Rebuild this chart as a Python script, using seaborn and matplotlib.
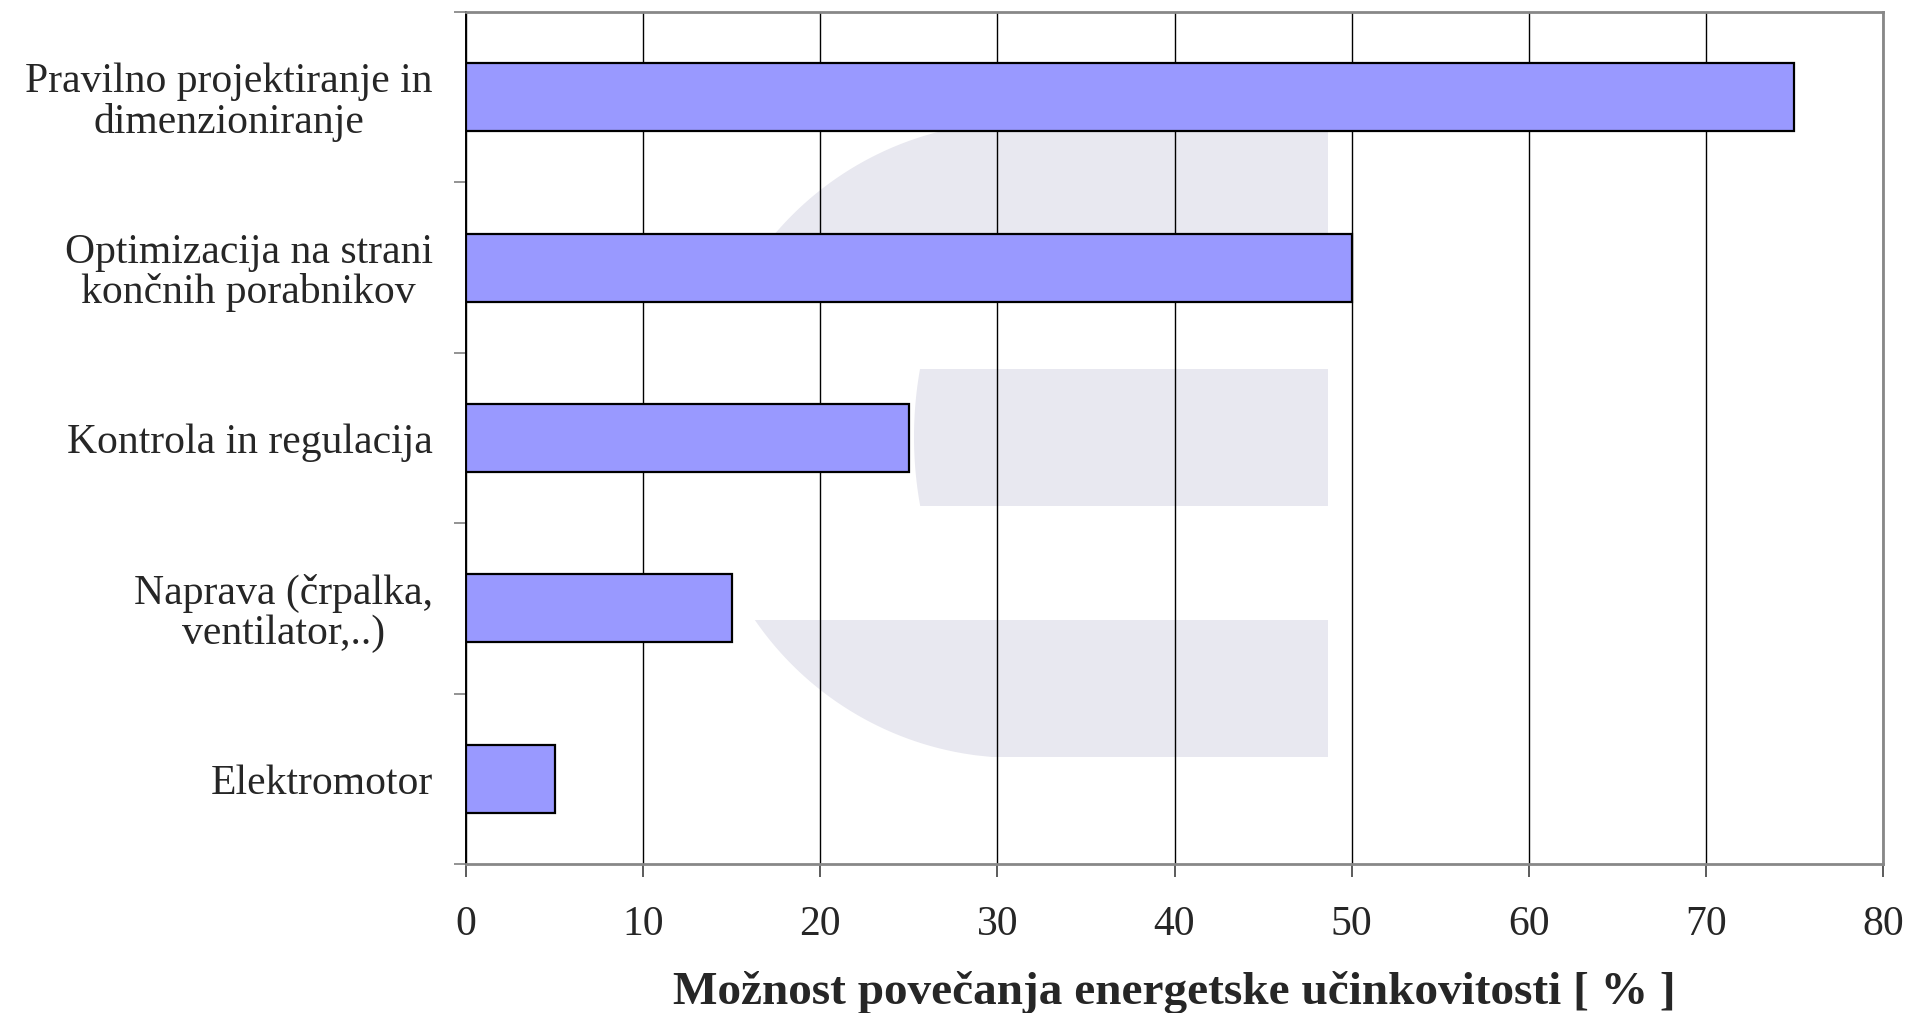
import numpy as np
import matplotlib
matplotlib.use("Agg")
import matplotlib.pyplot as plt
from matplotlib.patches import Polygon
from matplotlib.ticker import FixedLocator
import seaborn as sns
import pandas as pd

# Data
categories = [
    "Pravilno projektiranje in\ndimenzioniranje",
    "Optimizacija na strani\nkončnih porabnikov",
    "Kontrola in regulacija",
    "Naprava (črpalka,\nventilator,..)",
    "Elektromotor",
]
values = [75, 50, 25, 15, 5]
x_ticks = [0, 10, 20, 30, 40, 50, 60, 70, 80]
x_label = "Možnost povečanja energetske učinkovitosti [ % ]"

df = pd.DataFrame({"ukrep": categories, "delez": values})

sns.set_theme(style="white")
plt.rcParams["font.family"] = ["Liberation Serif", "DejaVu Serif"]

W, H = 1909, 1013
fig = plt.figure(figsize=(W / 100, H / 100), dpi=100)
fig.patch.set_facecolor("white")

# axes placement in pixels (left, top, right, bottom)
L, T, R, B = 466, 12, 1883, 864
ax = fig.add_axes([L / W, 1 - B / H, (R - L) / W, (B - T) / H])
ax.set_facecolor("white")


def px(points):
    """Convert pixel coordinates (origin top-left) to figure fraction."""
    pts = np.asarray(points, dtype=float)
    return np.column_stack([pts[:, 0] / W, 1 - pts[:, 1] / H])


# Light background emblem: horizontal stripes trimmed by circular arcs
emblem_color = "#E8E8F0"
cx, cy, r = 1017.0, 440.0, 318.0
x_right = 1328.0


def outer_band(y0, y1, n=80):
    ys = np.linspace(y0, y1, n)
    xs = cx - np.sqrt(np.clip(r ** 2 - (ys - cy) ** 2, 0, None))
    return [(x_right, y0)] + list(zip(xs, ys)) + [(x_right, y1)]


def middle_band(y0, y1, mcx=1302.0, mcy=437.0, mr=388.0, n=60):
    ys = np.linspace(y0, y1, n)
    xs = mcx - np.sqrt(np.clip(mr ** 2 - (ys - mcy) ** 2, 0, None))
    return [(x_right, y0)] + list(zip(xs, ys)) + [(x_right, y1)]


for poly in (outer_band(122, 258), middle_band(369, 506), outer_band(620, 757)):
    ax.add_patch(Polygon(px(poly), closed=True, transform=fig.transFigure,
                         facecolor=emblem_color, edgecolor="none", zorder=0.1))

sns.barplot(data=df, y="ukrep", x="delez", orient="h", color="#9999FF",
            saturation=1, edgecolor="black", linewidth=1.6, width=0.4, ax=ax,
            zorder=2)

ax.set_xlim(0, 80)
ax.set_ylim(len(categories) - 0.5, -0.5)
ax.set_xticks(x_ticks)
ax.set_xticklabels([str(t) for t in x_ticks])
ax.set_axisbelow(True)
ax.grid(axis="x", color="black", linewidth=1.0, zorder=0.5)
ax.grid(axis="y", visible=False)

# category separators on the value axis
ax.yaxis.set_minor_locator(FixedLocator(np.arange(-0.5, len(categories), 1.0)))
ax.tick_params(axis="y", which="major", length=0, pad=24, labelsize=30)
ax.tick_params(axis="y", which="minor", direction="out", length=9,
               width=1.2, color="#808080", left=True)
ax.tick_params(axis="x", which="major", direction="out", length=9,
               width=1.2, color="#404040", bottom=True, pad=21, labelsize=30)
for lab in ax.get_yticklabels():
    lab.set_multialignment("center")
    lab.set_linespacing(1.05)

ax.set_ylabel("")
ax.set_xlabel(x_label, fontsize=34, fontweight="bold", labelpad=19)

for side in ("top", "right", "bottom"):
    ax.spines[side].set_visible(True)
    ax.spines[side].set_color("#888888")
    ax.spines[side].set_linewidth(2.0)
ax.spines["left"].set_visible(True)
ax.spines["left"].set_color("black")
ax.spines["left"].set_linewidth(1.4)

fig.savefig("out.png", dpi=100, facecolor="white")
